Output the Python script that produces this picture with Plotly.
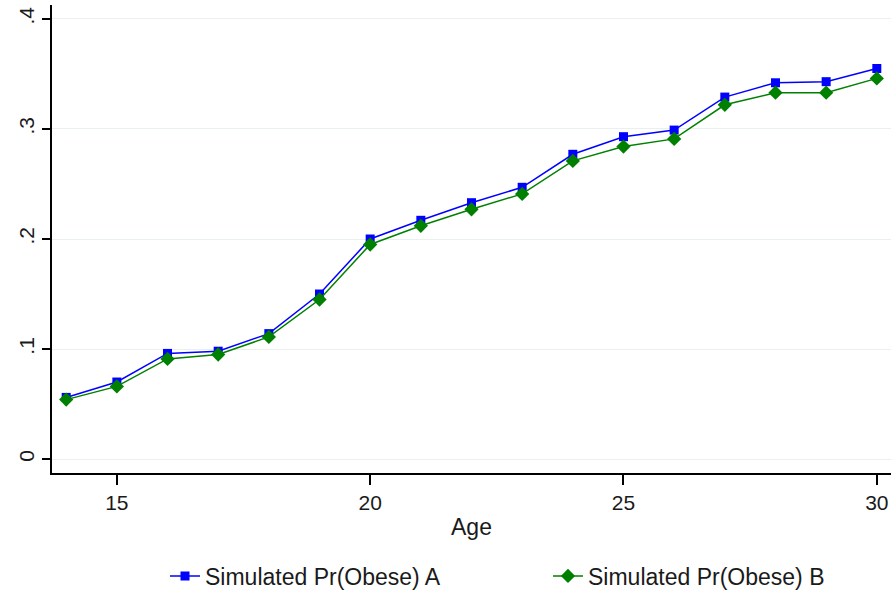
import plotly.graph_objects as go

age = list(range(14, 31))
sim_a = [0.056, 0.070, 0.096, 0.098, 0.114, 0.150, 0.200, 0.217, 0.233, 0.247,
         0.277, 0.293, 0.299, 0.329, 0.342, 0.343, 0.355]
sim_b = [0.054, 0.066, 0.091, 0.095, 0.111, 0.145, 0.195, 0.212, 0.227, 0.241,
         0.271, 0.284, 0.291, 0.322, 0.333, 0.333, 0.346]
y_ticks = [0, 0.1, 0.2, 0.3, 0.4]
y_labels = ["0", ".1", ".2", ".3", ".4"]
x_ticks = [15, 20, 25, 30]

fig = go.Figure()
fig.add_trace(go.Scatter(x=age, y=sim_a, mode="lines+markers", name="Simulated Pr(Obese) A",
                         line=dict(color="#0000ff", width=1.5),
                         marker=dict(symbol="square", size=9, color="#0000ff")))
fig.add_trace(go.Scatter(x=age, y=sim_b, mode="lines+markers", name="Simulated Pr(Obese) B",
                         line=dict(color="#008000", width=1.5),
                         marker=dict(symbol="diamond", size=11, color="#008000")))

ff = "Liberation Sans, Arial, sans-serif"
fig.update_layout(
    width=894, height=590,
    margin=dict(l=52, r=3, t=5, b=117),
    paper_bgcolor="white", plot_bgcolor="white",
    font=dict(family=ff, size=21, color="#1a1a1a"),
    showlegend=True,
    legend=dict(orientation="h", xref="container", yref="container",
                x=165 / 894, xanchor="left", y=14 / 590, yanchor="middle",
                font=dict(size=23), entrywidth=338, tracegroupgap=0,
                bgcolor="rgba(0,0,0,0)"),
    xaxis=dict(range=[13.72, 30.28], tickvals=x_ticks, showgrid=False, zeroline=False,
               showline=True, linecolor="black", linewidth=1.5, automargin=False,
               ticks="outside", ticklen=10, tickcolor="black", tickwidth=1.5,
               tickfont=dict(size=21),
               title=dict(text="Age", font=dict(size=23), standoff=6)),
    yaxis=dict(range=[-0.0127, 0.4127], tickvals=y_ticks, ticktext=y_labels, tickangle=-90,
               showgrid=True, gridcolor="#eaf0f0", gridwidth=1, zeroline=False,
               showline=True, linecolor="black", linewidth=1.5, automargin=False,
               ticks="outside", ticklen=8, tickcolor="black", tickwidth=1.5,
               tickfont=dict(size=21)),
)

fig.write_html("out.html")
